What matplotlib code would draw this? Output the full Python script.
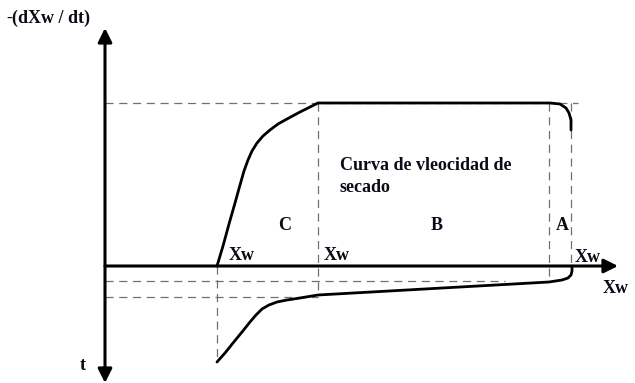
import matplotlib.pyplot as plt

# coordenadas: origen en el cruce de los ejes (Xw hacia la derecha, velocidad hacia arriba)
# curva de velocidad de secado -(dXw/dt) vs Xw
x_vel = [112, 118, 124, 130, 135, 139, 143, 147, 152, 158, 165, 173, 182, 195, 213,
         445, 455, 461, 464, 466, 466]
y_vel = [0, 20, 42, 63, 81, 95, 106, 115, 123, 130, 136, 142, 147, 154, 163,
         163, 162, 158, 153, 146, 136]

# curva tiempo vs Xw (parte inferior)
x_t = [112, 120, 128, 137, 145, 151, 157, 164, 172, 182, 195, 213, 444, 457, 463, 466, 467, 467]
y_t = [-96, -87, -77, -66, -56, -49, -43, -39, -36, -34, -32, -29, -16, -14, -12, -9, -5, 0]

# lineas auxiliares discontinuas
h_lines = [(163, 0, 473), (-15, 0, 400), (-31, 0, 213)]
v_lines = [(112, 0, -96), (213, 163, -29), (444, 163, -16), (466, 163, 0)]

# textos
zonas = ["C", "B", "A"]
zonas_x = [180, 332, 457]
etiquetas_xw = [(124, 6), (219, 6), (470, 4), (498, -27)]

fuente = 'Liberation Serif'
color_txt = '#0b0b18'

fig = plt.figure(figsize=(6.35, 3.83), dpi=100)
ax = fig.add_axes([0, 0, 1, 1])
ax.set_xlim(-105, 530)
ax.set_ylim(-117, 266)
ax.axis('off')

gris = '#707070'
for y, x0, x1 in h_lines:
    ax.plot([x0, x1], [y, y], color=gris, lw=0.9, dashes=(6.5, 4.5))
for x, y0, y1 in v_lines:
    ax.plot([x, x], [y0, y1], color=gris, lw=0.9, dashes=(6.5, 4.5))

# ejes con flechas
ax.annotate('', xy=(0, 238), xytext=(0, -117),
            arrowprops=dict(arrowstyle='<|-|>,head_length=0.6,head_width=0.3',
                            lw=2.2, color='black', mutation_scale=14,
                            shrinkA=0, shrinkB=0))
ax.annotate('', xy=(513, 0), xytext=(0, 0),
            arrowprops=dict(arrowstyle='-|>,head_length=0.6,head_width=0.3',
                            lw=2.2, color='black', mutation_scale=14,
                            shrinkA=0, shrinkB=0))

ax.plot(x_vel, y_vel, color='black', lw=2.0, solid_capstyle='round', solid_joinstyle='round')
ax.plot(x_t, y_t, color='black', lw=2.0, solid_capstyle='round', solid_joinstyle='round')

kw = dict(fontfamily=fuente, fontweight='bold', fontsize=13, color=color_txt)
ax.text(-99, 248, '-', ha='left', va='center', fontfamily=fuente, fontsize=13, color=color_txt)
ax.text(-93, 248, '(dXw / dt)', ha='left', va='center', **kw)
ax.text(235, 96, 'Curva de vleocidad de', ha='left', va='baseline', **kw)
ax.text(235, 74, 'secado', ha='left', va='baseline', **kw)
for z, zx in zip(zonas, zonas_x):
    ax.text(zx, 36, z, ha='center', va='baseline', **kw)
for ex, ey in etiquetas_xw:
    ax.text(ex, ey, 'Xw', ha='left', va='baseline', **kw)
ax.text(-22, -104, 't', ha='center', va='baseline', **kw)

fig.savefig('out.png', dpi=100)
